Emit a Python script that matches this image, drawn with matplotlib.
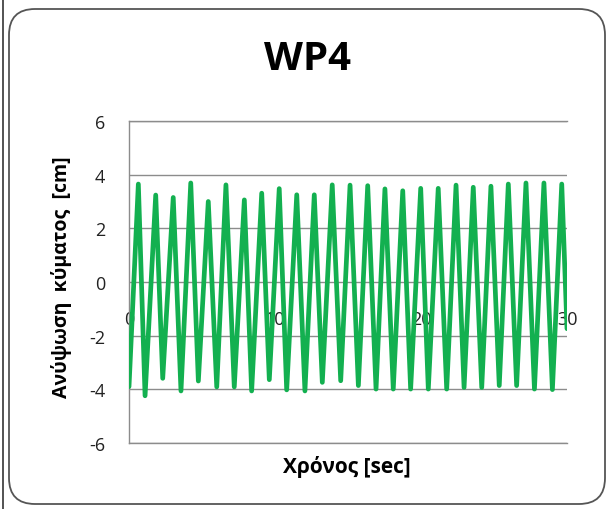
import matplotlib
matplotlib.use("Agg")
import matplotlib.pyplot as plt
from matplotlib.patches import FancyBboxPatch
from matplotlib.lines import Line2D

# ---- data (successive extremes of the wave) ----
time_s = [0.00, 0.64, 1.10, 1.83, 2.31, 3.03, 3.56, 4.23, 4.75, 5.43, 6.01,
          6.64, 7.21, 7.90, 8.40, 9.09, 9.61, 10.29, 10.80, 11.49, 12.05,
          12.69, 13.24, 13.92, 14.50, 15.14, 15.71, 16.35, 16.92, 17.53,
          18.10, 18.75, 19.29, 19.98, 20.50, 21.18, 21.76, 22.40, 22.95,
          23.58, 24.16, 24.79, 25.36, 25.98, 26.55, 27.19, 27.77, 28.42,
          29.00, 29.64, 30.00]
elev_cm = [-3.90, 3.65, -4.24, 3.24, -3.59, 3.15, -4.06, 3.69, -3.69, 3.00,
           -3.91, 3.62, -3.91, 3.06, -4.06, 3.31, -3.64, 3.48, -4.02, 3.25,
           -4.06, 3.25, -3.74, 3.62, -3.68, 3.61, -3.86, 3.59, -3.99, 3.47,
           -3.99, 3.40, -3.99, 3.49, -3.99, 3.49, -3.99, 3.61, -3.93, 3.53,
           -3.93, 3.57, -3.86, 3.65, -3.86, 3.69, -3.99, 3.69, -4.01, 3.65,
           -1.74]
x_ticks = [0, 10, 20, 30]
y_ticks = [-6, -4, -2, 0, 2, 4, 6]
title = "WP4"
x_label = "Χρόνος [sec]"
y_label = "Ανύψωση  κύματος  [cm]"

W, H = 607, 510
fig = plt.figure(figsize=(W / 100, H / 100), dpi=100)
fig.patch.set_facecolor("white")

FONT = ["Open Sans", "DejaVu Sans"]

# frame overlay in pixel coordinates
ov = fig.add_axes([0, 0, 1, 1], zorder=0)
ov.set_xlim(0, W)
ov.set_ylim(H, 0)
ov.axis("off")
box = FancyBboxPatch((9, 10), 596, 495,
                     boxstyle="round,pad=0,rounding_size=26",
                     fc="white", ec="#555555", lw=1.3)
ov.add_patch(box)
ov.add_line(Line2D([3, 3], [0, H], color="#444444", lw=1.3))

# plot area
x0, x1 = 129, 567
ytop, ybot = 122, 444
ax = fig.add_axes([x0 / W, 1 - ybot / H, (x1 - x0) / W, (ybot - ytop) / H],
                  zorder=1)
ax.patch.set_alpha(0)
ax.set_xlim(0, 30)
ax.set_ylim(-6, 6)
ax.set_yticks(y_ticks)
ax.set_xticks(x_ticks)
ax.yaxis.grid(True, color="#8c8c8c", lw=1.0)
ax.set_axisbelow(True)
for yv in (y_ticks[0], y_ticks[-1]):
    ax.axhline(yv, color="#8c8c8c", lw=1.0, clip_on=False, zorder=0.5)

for s in ["top", "right"]:
    ax.spines[s].set_visible(False)
ax.spines["left"].set_color("#8c8c8c")
ax.spines["left"].set_linewidth(1.0)
ax.spines["bottom"].set_position(("data", 0))
ax.spines["bottom"].set_visible(False)

ax.tick_params(axis="y", length=0, pad=17, labelsize=13, labelcolor="#222222")
ax.tick_params(axis="x", length=0, pad=20, labelsize=13, labelcolor="#222222")
ax.set_yticklabels([f"{v:d}" for v in y_ticks], family=FONT)
ax.set_xticklabels([str(v) for v in x_ticks], family=FONT)

ax.plot(time_s, elev_cm, color="#13b050", lw=3.4, solid_joinstyle="round",
        solid_capstyle="round", zorder=3)

fig.text(308 / W, 1 - 60 / H, title, ha="center", va="center",
         fontsize=29, fontweight="bold", family=FONT)
fig.text(347 / W, 1 - 467 / H, x_label, ha="center", va="center",
         fontsize=15, fontweight="bold", family=FONT)
fig.text(62 / W, 1 - 277 / H, y_label, ha="center", va="center",
         rotation=90, fontsize=14, fontweight="bold", family=FONT)

fig.savefig("out.png", dpi=100)
